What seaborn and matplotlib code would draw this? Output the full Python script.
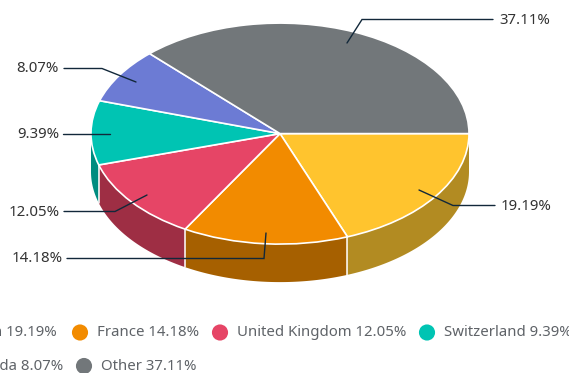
import numpy as np
import matplotlib
matplotlib.use("Agg")
import matplotlib.pyplot as plt
from matplotlib.patches import Polygon
import pandas as pd
import seaborn as sns

categories = ["Japan", "France", "United Kingdom", "Switzerland", "Canada", "Other"]
values = [19.19, 14.18, 12.05, 9.39, 8.07, 37.11]
top_colors = ["#FFC42E", "#F28B00", "#E64566", "#00C4B3", "#6C7BD4", "#72777A"]
side_colors = ["#B28B22", "#A66000", "#9E2E44", "#008C80", "#4C5694", "#505355"]

W, H = 569, 373
CX, CY, RX, RY, DEPTH = 280, 133.6, 189, 110.5, 38

sns.set_theme(style="white", rc={"font.family": ["Noto Sans", "DejaVu Sans"]})
fig = plt.figure(figsize=(W / 100, H / 100), dpi=100)
ax = fig.add_axes([0, 0, 1, 1])
ax.pie(values, colors=top_colors, startangle=0, counterclock=False, radius=1,
       wedgeprops={"edgecolor": "white", "linewidth": 1.2, "zorder": 3}, frame=True)
ax.set_aspect("auto")
ax.set_xlim(-CX / RX, (W - CX) / RX)
ax.set_ylim((CY - H) / RY, CY / RY)
ax.axis("off")

# extruded rim of the pie, from the same shares
d = DEPTH / RY
edges = np.cumsum([0] + values) / sum(values) * 360
for i, col in enumerate(side_colors):
    a, b = edges[i], edges[i + 1]
    a2, b2 = max(a, 0), min(b, 180)
    if b2 <= a2:
        continue
    t = np.radians(np.linspace(a2, b2, 120))
    x, y = np.cos(t), -np.sin(t)
    pts = np.r_[np.c_[x, y], np.c_[x[::-1], y[::-1] - d]]
    ax.add_patch(Polygon(pts, closed=True, fc=col, ec="none", zorder=1))
    if i < 3:
        ax.plot([x[-1], x[-1]], [y[-1], y[-1] - d], color="white", lw=1.1, zorder=2)

# overlay in pixel coordinates for labels and legend
ov = fig.add_axes([0, 0, 1, 1], facecolor="none")
ov.set_xlim(0, W)
ov.set_ylim(H, 0)
ov.axis("off")

label_text = {c: f"{v:.2f}%" for c, v in zip(categories, values)}
leaders = {
    "Other": ([347, 362, 493], [43, 19.5, 19.5], 499, 20, "left"),
    "Japan": ([419, 453, 495], [190, 205.5, 205.5], 501, 206, "left"),
    "France": ([266, 264, 67], [233, 258.5, 258.5], 63, 259, "right"),
    "United Kingdom": ([147, 115, 64], [195, 211.5, 211.5], 60, 212, "right"),
    "Switzerland": ([110, 63], [133.5, 133.5], 59, 134, "right"),
    "Canada": ([136, 102, 64], [82, 68.5, 68.5], 59, 69, "right"),
}
for c, (xs, ys, tx, ty, ha) in leaders.items():
    ov.plot(xs, ys, color="#12283A", lw=1, solid_joinstyle="miter", zorder=5)
    ov.text(tx, ty, label_text[c], ha=ha, va="center", fontsize=10.8,
            color="#333333", zorder=6)

legend_pos = {
    "France": (80, 332.5), "United Kingdom": (220, 332.5), "Switzerland": (427, 332.5),
    "Other": (84, 366),
}
dots = pd.DataFrame({
    "x": [legend_pos[c][0] for c in legend_pos],
    "y": [legend_pos[c][1] for c in legend_pos],
    "cat": list(legend_pos),
})
sns.scatterplot(data=dots, x="x", y="y", hue="cat", ax=ov, s=135, linewidth=0, legend=False,
                palette={c: top_colors[categories.index(c)] for c in legend_pos}, zorder=6)
ov.set_xlim(0, W)
ov.set_ylim(H, 0)
ov.axis("off")

legend_col = "#5F6368"
for c in legend_pos:
    x, y = legend_pos[c]
    ov.text(x + 17, y + 0.5, f"{c} {label_text[c]}", ha="left", va="center", fontsize=10.75,
            color=legend_col, zorder=6, clip_on=True)
ov.text(57, 333, f"Japan {label_text['Japan']}", ha="right", va="center", fontsize=10.75,
        color=legend_col, clip_on=True)
ov.text(63, 366.5, f"Canada {label_text['Canada']}", ha="right", va="center", fontsize=10.75,
        color=legend_col, clip_on=True)

fig.savefig("out.png", dpi=100)
